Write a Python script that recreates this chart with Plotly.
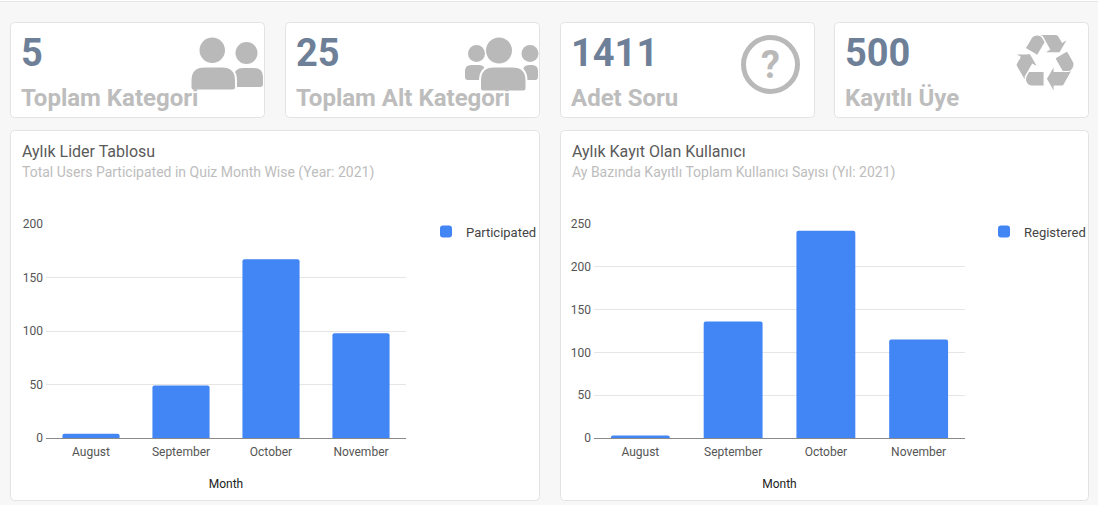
import plotly.graph_objects as go

# ---------------- data ----------------
months = ["August", "September", "October", "November"]
participated = [4, 49, 167, 98]
registered = [3, 136, 242, 115]

card_values = ["5", "25", "1411", "500"]
card_labels = ["Toplam Kategori", "Toplam Alt Kategori", "Adet Soru", "Kayıtlı Üye"]

chart_titles = ["Aylık Lider Tablosu", "Aylık Kayıt Olan Kullanıcı"]
chart_subtitles = ["Total Users Participated in Quiz Month Wise (Year: 2021)",
                   "Ay Bazında Kayıtlı Toplam Kullanıcı Sayısı (Yıl: 2021)"]
series_names = ["Participated", "Registered"]
x_title = "Month"
y_ticks_left = [0, 50, 100, 150, 200]
y_ticks_right = [0, 50, 100, 150, 200, 250]

# ---------------- geometry helpers ----------------
W, H = 1098, 505
FONT = "Roboto"
BLUE = "#4285f4"
ICON = "#b9b9b9"


def px(x):
    return x / W


def py(y):
    return 1 - y / H


def rrect_path(x0, y0, x1, y1, r):
    rx, ry = r, r
    pts = [
        f"M {px(x0 + rx)},{py(y0)}",
        f"L {px(x1 - rx)},{py(y0)}",
        f"Q {px(x1)},{py(y0)} {px(x1)},{py(y0 + ry)}",
        f"L {px(x1)},{py(y1 - ry)}",
        f"Q {px(x1)},{py(y1)} {px(x1 - rx)},{py(y1)}",
        f"L {px(x0 + rx)},{py(y1)}",
        f"Q {px(x0)},{py(y1)} {px(x0)},{py(y1 - ry)}",
        f"L {px(x0)},{py(y0 + ry)}",
        f"Q {px(x0)},{py(y0)} {px(x0 + rx)},{py(y0)}",
        "Z",
    ]
    return " ".join(pts)


def body_path(x0, ytop, x1, ybot, r):
    # rounded-top body shape of a "user" icon
    return " ".join([
        f"M {px(x0)},{py(ybot)}",
        f"L {px(x0)},{py(ytop + r)}",
        f"Q {px(x0)},{py(ytop)} {px(x0 + r)},{py(ytop)}",
        f"L {px(x1 - r)},{py(ytop)}",
        f"Q {px(x1)},{py(ytop)} {px(x1)},{py(ytop + r)}",
        f"L {px(x1)},{py(ybot - 3)}",
        f"Q {px(x1)},{py(ybot)} {px(x1 - 3)},{py(ybot)}",
        f"L {px(x0 + 3)},{py(ybot)}",
        f"Q {px(x0)},{py(ybot)} {px(x0)},{py(ybot - 3)}",
        "Z",
    ])


shapes = []
annotations = []

# top strip
shapes.append(dict(type="rect", xref="paper", yref="paper", x0=0, x1=1, y0=py(1.5), y1=1,
                   fillcolor="white", line=dict(width=0), layer="below"))
shapes.append(dict(type="line", xref="paper", yref="paper", x0=0, x1=1, y0=py(1.5), y1=py(1.5),
                   line=dict(color="#e6e6e6", width=1), layer="below"))

# stat cards
card_lefts = [10, 285, 560, 834]
for i, x0 in enumerate(card_lefts):
    shapes.append(dict(type="path", xref="paper", yref="paper",
                       path=rrect_path(x0 + 0.5, 22.5, x0 + 254.5, 117.5, 4),
                       fillcolor="white", line=dict(color="#e3e3e3", width=1), layer="below"))
    annotations.append(dict(x=px(x0 + 8.5), y=py(53), xref="paper", yref="paper",
                            xanchor="left", yanchor="middle", showarrow=False,
                            text=card_values[i],
                            font=dict(family=FONT, size=38, color="#6e8098", weight="bold")))
    annotations.append(dict(x=px(x0 + 8.5), y=py(98), xref="paper", yref="paper",
                            xanchor="left", yanchor="middle", showarrow=False,
                            text=card_labels[i],
                            font=dict(family=FONT, size=24, color="#bdbdbd", weight="bold")))

# chart cards
for x0, x1 in [(10, 539), (560, 1088)]:
    shapes.append(dict(type="path", xref="paper", yref="paper",
                       path=rrect_path(x0 + 0.5, 130.5, x1 + 0.5, 500.5, 4),
                       fillcolor="white", line=dict(color="#e3e3e3", width=1), layer="below"))

# ---- icons (drawn above text) ----
# card 1: users (two)
shapes.append(dict(type="path", xref="paper", yref="paper",
                   path=body_path(234, 68, 263, 87, 9), fillcolor=ICON, line=dict(width=0)))
shapes.append(dict(type="circle", xref="paper", yref="paper",
                   x0=px(235.5), x1=px(257.5), y0=py(42), y1=py(64),
                   fillcolor=ICON, line=dict(width=0)))
shapes.append(dict(type="path", xref="paper", yref="paper",
                   path=body_path(190.5, 66.5, 236, 90.5, 14), fillcolor=ICON,
                   line=dict(color="white", width=2)))
shapes.append(dict(type="circle", xref="paper", yref="paper",
                   x0=px(199.5), x1=px(225), y0=py(37.5), y1=py(63),
                   fillcolor=ICON, line=dict(width=0)))

# card 2: users (three)
for cx, bx0, bx1 in [(476.5, 465, 485), (530, 523, 538)]:
    shapes.append(dict(type="path", xref="paper", yref="paper",
                       path=body_path(bx0, 65, bx1, 80, 6), fillcolor=ICON, line=dict(width=0)))
    shapes.append(dict(type="circle", xref="paper", yref="paper",
                       x0=px(cx - 8.5), x1=px(cx + 8.5), y0=py(45), y1=py(62),
                       fillcolor=ICON, line=dict(width=0)))
shapes.append(dict(type="path", xref="paper", yref="paper",
                   path=body_path(480, 66.5, 526.5, 91.5, 14), fillcolor=ICON,
                   line=dict(color="white", width=2)))
shapes.append(dict(type="circle", xref="paper", yref="paper",
                   x0=px(486), x1=px(512), y0=py(37.5), y1=py(63.5),
                   fillcolor=ICON, line=dict(width=0)))

# card 3: question circle
shapes.append(dict(type="circle", xref="paper", yref="paper",
                   x0=px(743.5), x1=px(797.5), y0=py(37.5), y1=py(91.5),
                   fillcolor="rgba(0,0,0,0)", line=dict(color=ICON, width=5)))
annotations.append(dict(x=px(770.5), y=py(65), xref="paper", yref="paper",
                        xanchor="center", yanchor="middle", showarrow=False, text="?",
                        font=dict(family=FONT, size=38, color=ICON, weight="bold")))

# card 4: recycle
annotations.append(dict(x=px(1045), y=py(63), xref="paper", yref="paper",
                        xanchor="center", yanchor="middle", showarrow=False, text="♻",
                        font=dict(family="DejaVu Sans", size=78, color=ICON)))

# chart titles
for x0, t, s in [(10, chart_titles[0], chart_subtitles[0]), (560, chart_titles[1], chart_subtitles[1])]:
    annotations.append(dict(x=px(x0 + 9.5), y=py(151), xref="paper", yref="paper",
                            xanchor="left", yanchor="middle", showarrow=False, text=t,
                            font=dict(family=FONT, size=16, color="#5a5a5a")))
    annotations.append(dict(x=px(x0 + 9.5), y=py(172), xref="paper", yref="paper",
                            xanchor="left", yanchor="middle", showarrow=False, text=s,
                            font=dict(family=FONT, size=14, color="#bdbdbd")))

# ---------------- figure ----------------
fig = go.Figure()
fig.add_trace(go.Bar(x=months, y=participated, name=series_names[0], marker_color=BLUE,
                     marker_line_width=0, marker_cornerradius=2,
                     xaxis="x", yaxis="y", legend="legend"))
fig.add_trace(go.Bar(x=months, y=registered, name=series_names[1], marker_color=BLUE,
                     marker_line_width=0, marker_cornerradius=2,
                     xaxis="x2", yaxis="y2", legend="legend2"))

axis_font = dict(family=FONT, size=12, color="#555")
common_x = dict(showgrid=False, showline=True, linecolor="#8a8a8a", linewidth=1,
                ticks="", tickfont=axis_font, fixedrange=True, automargin=False,
                ticklabelstandoff=3,
                title=dict(text=x_title, font=dict(family=FONT, size=12, color="#222"), standoff=21))
common_y = dict(showgrid=True, gridcolor="#e6e6e6", gridwidth=1, zeroline=False, showline=False,
                ticks="", tickfont=axis_font, fixedrange=True, automargin=False,
                ticklabelstandoff=2)

fig.update_layout(
    width=W, height=H,
    margin=dict(l=0, r=0, t=0, b=0, pad=0, autoexpand=False),
    paper_bgcolor="#f7f7f7",
    plot_bgcolor="rgba(0,0,0,0)",
    font=dict(family=FONT),
    bargap=0.365,
    xaxis=dict(domain=[px(46), px(406)], anchor="y", **common_x),
    yaxis=dict(domain=[py(438), py(224)], anchor="x", range=[0, 200], tickvals=y_ticks_left, **common_y),
    xaxis2=dict(domain=[px(594), px(965)], anchor="y2", **common_x),
    yaxis2=dict(domain=[py(438), py(224)], anchor="x2", range=[0, 250], tickvals=y_ticks_right, **common_y),
    legend=dict(x=px(426), y=py(216.5), xanchor="left", yanchor="top",
                bgcolor="rgba(0,0,0,0)", font=dict(family=FONT, size=13, color="#444")),
    legend2=dict(x=px(984), y=py(216.5), xanchor="left", yanchor="top",
                 bgcolor="rgba(0,0,0,0)", font=dict(family=FONT, size=13, color="#444")),
    shapes=shapes,
    annotations=annotations,
    showlegend=True,
)

post = (
    "document.documentElement.style.cssText='margin:0;padding:0;overflow:hidden;';"
    "document.body.style.cssText='margin:0;padding:0;overflow:hidden;';"
    "window.scrollTo(0,0);"
)

fig.write_html("out.html", config={"displayModeBar": False}, post_script=post)
